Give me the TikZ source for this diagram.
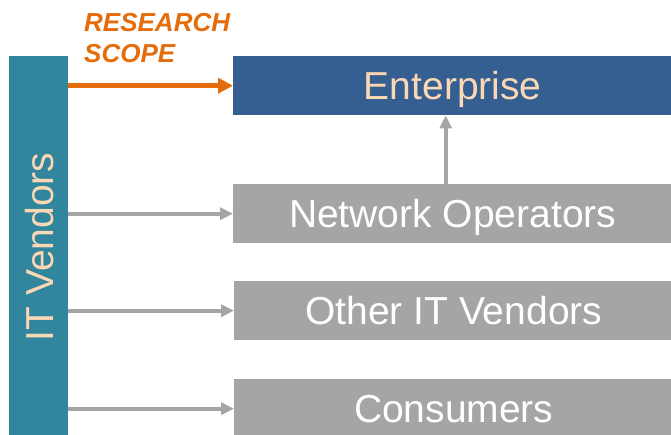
\documentclass[tikz,border=0pt]{standalone}
\usepackage{fontspec}
\setmainfont{Liberation Sans}
\usetikzlibrary{arrows.meta}
\definecolor{tealbar}{RGB}{49,133,156}
\definecolor{entblue}{RGB}{54,95,145}
\definecolor{boxgray}{RGB}{165,165,165}
\definecolor{peach}{RGB}{250,215,181}
\definecolor{scopeorange}{RGB}{228,108,10}
\tikzset{
  bigtext/.style={font=\fontsize{39}{41}\selectfont, text height=28pt, text depth=0pt},
  stepbox/.style={rectangle, fill=boxgray, text=white, bigtext, anchor=north west,
    minimum width=439pt, minimum height=59pt, inner sep=0pt},
  grayarrow/.style={draw=boxgray, line width=4pt, -{Triangle[length=13pt,width=12pt]}},
  orangearrow/.style={draw=scopeorange, line width=5pt, -{Triangle[length=15pt,width=15pt]}},
}
\begin{document}
\begin{tikzpicture}[x=1pt,y=-1pt]
\useasboundingbox (0,0) rectangle (671,435);
\clip (0,0) rectangle (671,435);
% vertical IT Vendors bar
\node[rectangle, fill=tealbar, anchor=north west, minimum width=59pt, minimum height=384pt, inner sep=0pt] (vend) at (9,56) {};
\node[text=peach, bigtext, rotate=90, inner sep=0pt] (vendlabel) at (39,247) {IT Vendors};
% target boxes
\node[stepbox, fill=entblue, text=peach] (ent) at (233,56) {Enterprise};
\node[stepbox] (net) at (233,184) {Network Operators};
\node[stepbox] (oth) at (234,281) {Other IT Vendors};
\node[stepbox] (con) at (234,379) {Consumers};
% research scope label
\node[text=scopeorange, font=\fontsize{26}{31}\selectfont\bfseries\itshape, anchor=north west, align=left, inner sep=0pt] (scope) at (84,13) {RESEARCH\\SCOPE};
% arrows
\draw[orangearrow] (vend.east |- ent.west) -- (ent.west);
\draw[grayarrow] (vend.east |- net.west) -- (net.west);
\draw[grayarrow] (vend.east |- oth.west) -- (oth.west);
\draw[grayarrow] (vend.east |- con.west) -- (con.west);
\draw[grayarrow] ([xshift=-7pt]net.north) -- ([xshift=-7pt]ent.south);
\end{tikzpicture}
\end{document}
